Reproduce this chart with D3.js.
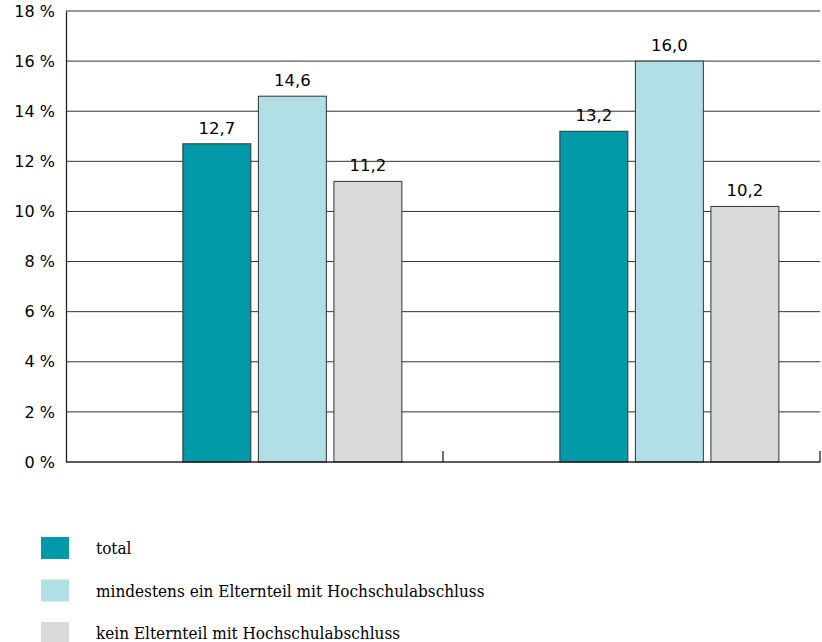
<!DOCTYPE html>
<html>
<head>
<meta charset="utf-8">
<script src="https://cdn.jsdelivr.net/npm/d3@7"></script>
<style>
  body { margin: 0; background: #fff; }
  svg { display: block; }
</style>
</head>
<body>
<div id="plot"></div>
<script>
    const categories = ["A", "B"];
    const seriesNames = ["total", "mindestens ein Elternteil mit Hochschulabschluss", "kein Elternteil mit Hochschulabschluss"];
    const totalValues = [12.7, 13.2];
    const mitValues = [14.6, 16.0];
    const keinValues = [11.2, 10.2];
    const yTicks = [0, 2, 4, 6, 8, 10, 12, 14, 16, 18];
    const colors = ["#0099a8", "#b2dee6", "#d8d9db"];

    const seriesValues = [totalValues, mitValues, keinValues];

    const svg = d3.select("div#plot")
      .append("svg")
        .attr("width", 822)
        .attr("height", 642);

    const plotLeft = 66, plotRight = 820, plotTop = 11, plotBottom = 462;

    const x0 = d3.scaleBand()
      .domain(categories)
      .range([plotLeft, plotRight]);

    // bars sit right of the band centre, like the original
    const x1 = d3.scaleBand()
      .domain(d3.range(seriesNames.length))
      .range([x0.bandwidth() * 0.31, x0.bandwidth() * 0.31 + 219])
      .paddingInner(0.1);

    const yScale = d3.scaleLinear()
      .domain([0, 18])
      .range([plotBottom, plotTop]);

    // gridlines
    svg.append("g")
      .selectAll("line")
      .data(yTicks.filter(d => d > 0))
      .enter()
      .append("line")
        .attr("x1", plotLeft)
        .attr("x2", plotRight)
        .attr("y1", d => yScale(d))
        .attr("y2", d => yScale(d))
        .attr("stroke", "#333")
        .attr("stroke-width", 1);

    const yAxis = d3.axisLeft(yScale)
      .tickValues(yTicks)
      .tickSize(0)
      .tickPadding(11)
      .tickFormat(d => d + " %");

    svg.append("g")
      .attr("transform", `translate(${plotLeft}, 0)`)
      .call(yAxis)
      .call(g => g.select(".domain").attr("stroke", "#222").attr("stroke-width", 1.3))
      .selectAll("text")
        .style("font-family", "DejaVu Sans")
        .style("font-size", "16px")
        .attr("fill", "#000");

    // bars
    seriesValues.forEach((vals, s) => {
      svg.selectAll(".bar-" + s)
        .data(vals)
        .enter()
        .append("rect")
          .attr("class", "bar-" + s)
          .attr("x", (d, i) => x0(categories[i]) + x1(s))
          .attr("y", d => yScale(d))
          .attr("width", x1.bandwidth())
          .attr("height", d => plotBottom - yScale(d))
          .attr("fill", colors[s])
          .attr("stroke", "#333")
          .attr("stroke-width", 1);

      svg.selectAll(".label-" + s)
        .data(vals)
        .enter()
        .append("text")
          .attr("class", "label-" + s)
          .attr("x", (d, i) => x0(categories[i]) + x1(s) + x1.bandwidth() / 2)
          .attr("y", d => yScale(d) - 10)
          .attr("text-anchor", "middle")
          .style("font-family", "DejaVu Sans")
          .style("font-size", "16.5px")
          .attr("fill", "#000")
          .text(d => d.toFixed(1).replace(".", ","));
    });

    // x axis line with inward ticks at the category borders
    svg.append("line")
      .attr("x1", plotLeft)
      .attr("x2", plotRight)
      .attr("y1", plotBottom)
      .attr("y2", plotBottom)
      .attr("stroke", "#222")
      .attr("stroke-width", 1.3);

    svg.append("g")
      .selectAll("line")
      .data(categories)
      .enter()
      .append("line")
        .attr("x1", d => x0(d) + x0.bandwidth())
        .attr("x2", d => x0(d) + x0.bandwidth())
        .attr("y1", plotBottom)
        .attr("y2", plotBottom - 11)
        .attr("stroke", "#222")
        .attr("stroke-width", 1.3);

    // legend
    const key = svg.append("g")
      .attr("transform", "translate(41, 537)");

    seriesNames.forEach((name, i) => {
      key.append("rect")
        .attr("x", 0)
        .attr("y", i * 42.5)
        .attr("width", 28)
        .attr("height", 22)
        .attr("fill", colors[i]);

      key.append("text")
        .attr("x", 55)
        .attr("y", i * 42.5 + 17)
        .style("font-family", "DejaVu Serif Condensed")
        .style("font-size", "17px")
        .attr("fill", "#000")
        .text(name);
    });
</script>
</body>
</html>
